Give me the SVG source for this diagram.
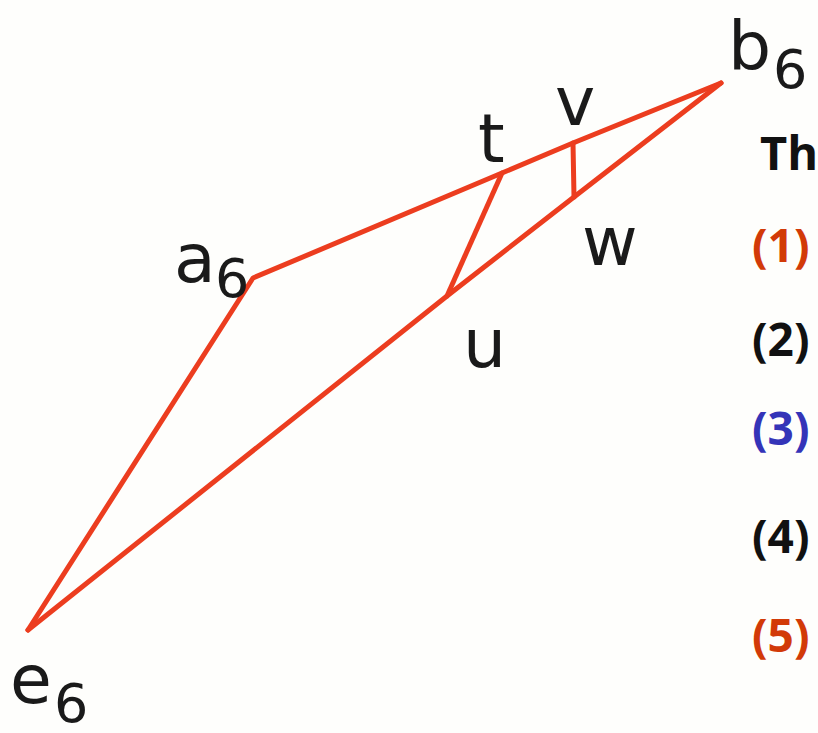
<svg xmlns="http://www.w3.org/2000/svg" width="818" height="733" viewBox="0 0 818 733">
<style>
.edge{fill:none;stroke:#ec3d1f;stroke-width:5;stroke-linecap:round;stroke-linejoin:round}
.lbl{font-family:"DejaVu Sans",sans-serif;font-size:68px;fill:#1a1a1a}
.sub{font-family:"DejaVu Sans",sans-serif;font-size:54px;fill:#1a1a1a}
.txt{font-family:"Open Sans","Noto Sans",sans-serif;font-weight:bold;font-size:46px;fill:#111}
</style>
<rect width="818" height="733" fill="#fefefc"/>
<g id="connectors">
<polyline class="edge" points="28,630 253,278 502,173 573,143 721,83"/>
<polyline class="edge" points="28,630 447,296 574,197 721,83"/>
<line class="edge" x1="502" y1="173" x2="447" y2="296"/>
<line class="edge" x1="573" y1="143" x2="574" y2="197"/>
</g>
<g id="node-a6"><text class="lbl" x="174" y="282">a</text><text class="sub" x="215" y="297">6</text></g>
<g id="node-b6"><text class="lbl" x="728" y="70">b</text><text class="sub" x="773" y="88">6</text></g>
<g id="node-e6"><text class="lbl" x="10" y="703">e</text><text class="sub" x="54" y="722">6</text></g>
<g id="node-t"><text class="lbl" x="478" y="162">t</text></g>
<g id="node-v"><text class="lbl" x="555" y="125">v</text></g>
<g id="node-w"><text class="lbl" x="582" y="265">w</text></g>
<g id="node-u"><text class="lbl" x="463" y="367">u</text></g>
<g id="text">
<text class="txt" x="760" y="170" style="font-size:47px">The</text>
<text class="txt" x="752" y="262" style="fill:#d23a08">(1)</text>
<text class="txt" x="752" y="356">(2)</text>
<text class="txt" x="752" y="445" style="fill:#3434b8">(3)</text>
<text class="txt" x="752" y="553">(4)</text>
<text class="txt" x="752" y="652" style="fill:#d23a08">(5)</text>
</g>
</svg>
